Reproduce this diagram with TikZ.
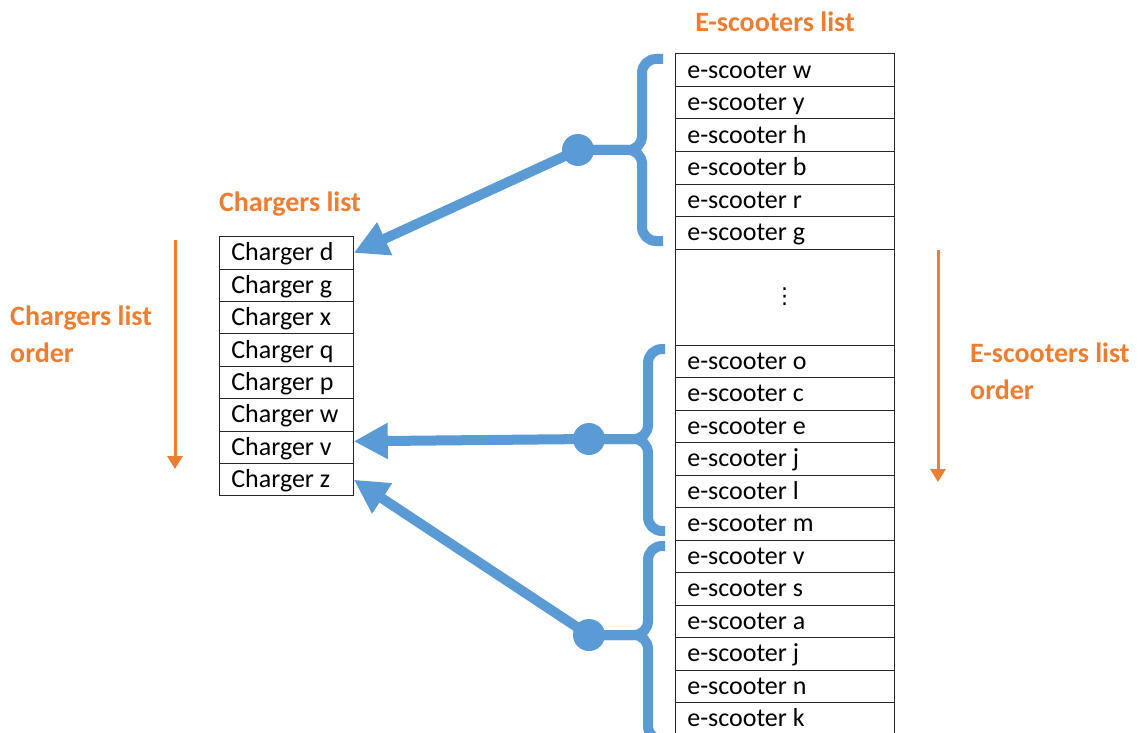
\documentclass[tikz,border=0pt]{standalone}
\usepackage{fontspec}
\setmainfont{Carlito}
\newfontfamily\dejavu{DejaVu Sans}
\usetikzlibrary{arrows.meta}
\definecolor{cblue}{HTML}{5B9BD5}
\definecolor{corange}{HTML}{ED7D31}
\tikzset{
  ccell/.style={draw=black!85, line width=1pt, minimum width=134pt, minimum height=32.4pt,
    text width=110pt, inner xsep=12pt, inner ysep=0pt, text height=20pt, text depth=4pt,
    align=flush left, font=\fontsize{26}{30}\selectfont},
  ecell/.style={ccell, minimum width=218.7pt, text width=194.7pt, minimum height=32.5pt},
  ebig/.style={draw=black!85, line width=1pt, minimum width=218.7pt, minimum height=96pt,
    inner sep=0pt, font=\dejavu\fontsize{22}{22}\selectfont},
  olabel/.style={text=corange, inner sep=0pt, font=\bfseries\fontsize{28}{37}\selectfont},
  dot/.style={circle, fill=cblue, minimum size=32pt, inner sep=0pt},
  brace/.style={draw=cblue, line width=10pt, rounded corners=14pt},
  barrow/.style={draw=cblue, line width=10pt, -{Triangle[length=34pt,width=34pt]}},
  oarrow/.style={draw=corange, line width=3pt, -{Triangle[length=13pt,width=15pt]}},
}
\begin{document}
\begin{tikzpicture}[x=1pt,y=-1pt]
\clip (0,0) rectangle (1138,733);
\fill[white] (0,0) rectangle (1138,733);
% chargers list
\foreach \t [count=\i] in {d,g,x,q,p,w,v,z}
  \node[ccell] (c\i) at (286.3,{236.7+32.4*(\i-0.5)}) {Charger \t};
% e-scooters list
\foreach \t [count=\i] in {w,y,h,b,r,g}
  \node[ecell] (e\i) at (784.65,{54+32.5*(\i-0.5)}) {e-scooter \t};
\node[ebig] (eM) at (784.65,297) {⋮};
\foreach \t [count=\i] in {o,c,e,j,l,m,v,s,a,j,n,k}
  \node[ecell] (f\i) at (784.65,{345+32.5*(\i-0.5)}) {e-scooter \t};
% labels
\node[olabel] (tE) at (775,22) {E-scooters list};
\node[olabel] (tC) at (290,204) {Chargers list};
\node[olabel, anchor=west, align=flush left] (tCo) at (10,334.5) {Chargers list\\order};
\node[olabel, anchor=west, align=flush left] (tEo) at (970,371.5) {E-scooters list\\order};
% order arrows
\coordinate (oa1) at (175,240);
\coordinate (oa2) at (175,469);
\coordinate (ob1) at (938,250);
\coordinate (ob2) at (938,482);
\draw[oarrow] (oa1) -- (oa2);
\draw[oarrow] (ob1) -- (ob2);
% dots
\node[dot] (d1) at (578,150) {};
\node[dot] (d2) at (589,439) {};
\node[dot] (d3) at (589,635) {};
% braces
\draw[brace] (663,59) -- (642,59) -- (642,150) -- (d1.center);
\draw[brace] (663,241) -- (642,241) -- (642,150) -- (d1.center);
\draw[brace] (665,349) -- (648,349) -- (648,439) -- (d2.center);
\draw[brace] (665,531) -- (648,531) -- (648,439) -- (d2.center);
\draw[brace] (665,546) -- (648,546) -- (648,635) -- (d3.center);
\draw[brace] (665,740) -- (648,740) -- (648,635) -- (d3.center);
% arrows
\draw[barrow] (d1.center) -- (c1.east);
\draw[barrow] (d2.center) -- ([yshift=6pt]c7.east);
\draw[barrow] (d3.center) -- (c8.east);
\end{tikzpicture}
\end{document}
